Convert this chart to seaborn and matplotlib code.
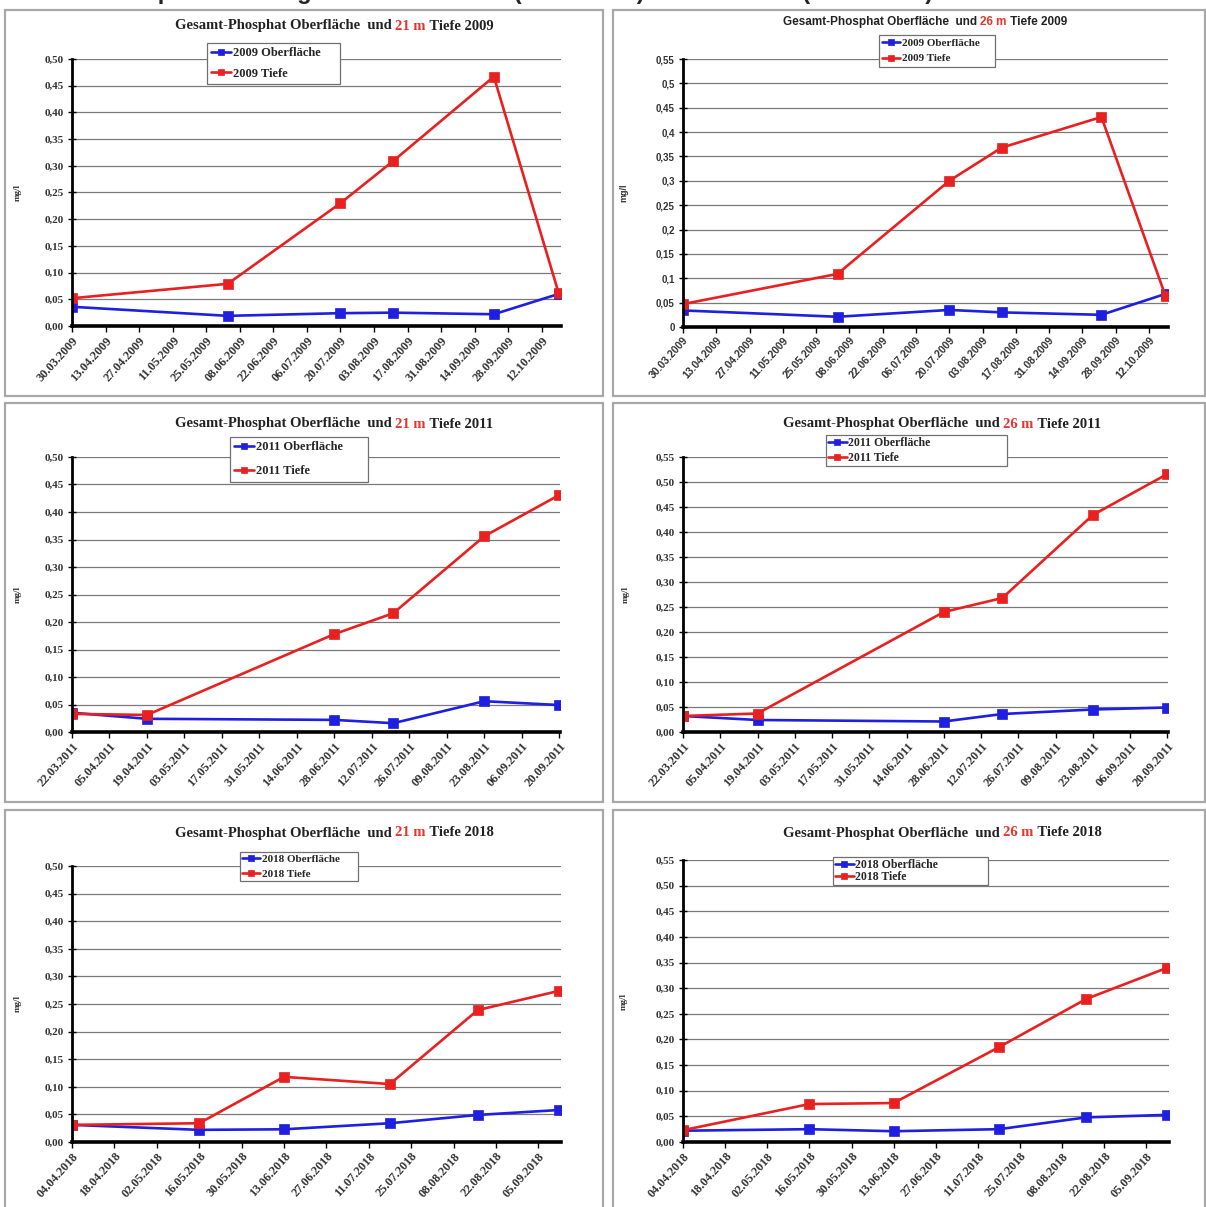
import numpy as np
import pandas as pd
import matplotlib
matplotlib.use("Agg")
import matplotlib.pyplot as plt
import matplotlib.dates as mdates
from matplotlib.patches import Rectangle
from matplotlib.ticker import FuncFormatter, MultipleLocator
import seaborn as sns

# ---------------------------------------------------------------- data
datum_2009 = ["30.03.2009", "03.06.2009", "20.07.2009", "11.08.2009", "22.09.2009", "19.10.2009"]
oberflaeche_2009_21m = [0.036, 0.019, 0.024, 0.025, 0.022, 0.060]
tiefe_2009_21m = [0.052, 0.079, 0.230, 0.309, 0.467, 0.062]
oberflaeche_2009_26m = [0.034, 0.021, 0.035, 0.030, 0.025, 0.068]
tiefe_2009_26m = [0.047, 0.109, 0.300, 0.368, 0.431, 0.063]

datum_2011 = ["22.03.2011", "19.04.2011", "28.06.2011", "20.07.2011", "23.08.2011", "20.09.2011"]
oberflaeche_2011_21m = [0.035, 0.024, 0.022, 0.016, 0.056, 0.049]
tiefe_2011_21m = [0.033, 0.031, 0.178, 0.216, 0.356, 0.431]
oberflaeche_2011_26m = [0.032, 0.024, 0.021, 0.036, 0.045, 0.049]
tiefe_2011_26m = [0.032, 0.037, 0.240, 0.268, 0.434, 0.516]

datum_2018 = ["04.04.2018", "16.05.2018", "13.06.2018", "18.07.2018", "16.08.2018", "12.09.2018"]
oberflaeche_2018_21m = [0.031, 0.022, 0.023, 0.034, 0.049, 0.058]
tiefe_2018_21m = [0.031, 0.034, 0.118, 0.105, 0.239, 0.274]
oberflaeche_2018_26m = [0.022, 0.025, 0.021, 0.025, 0.048, 0.053]
tiefe_2018_26m = [0.023, 0.074, 0.076, 0.185, 0.279, 0.340]

# ---------------------------------------------------------------- style
sns.set_theme(style="white")
SERIF = ["Liberation Serif", "DejaVu Serif"]
SANS = ["Liberation Sans", "DejaVu Sans"]
plt.rcParams["font.family"] = SERIF

BLUE = "#1f1fe0"
RED = "#e82020"
TITLE_RED = "#e8332b"

W, H = 1206, 1207
fig = plt.figure(figsize=(W / 100, H / 100), dpi=100)
fig.patch.set_facecolor("white")


def rect(x0, y0, x1, y1):
    return [x0 / W, 1 - y1 / H, (x1 - x0) / W, (y1 - y0) / H]


# page headline, running off the top edge of the page
fig.text(0.0, 1 + 1.5 / H,
         "Abb. 12: Phosphat-Messergebnisse Untersee (21 m Tiefe) und Obersee (26 m Tiefe)",
         fontsize=17, weight="bold", family=SANS, va="baseline", ha="left")

# frames around the six charts
frames = [(5, 10, 603, 396), (613, 10, 1205, 396),
          (5, 403, 603, 802), (613, 403, 1205, 802),
          (5, 810, 603, 1215), (613, 810, 1205, 1215)]
for x0, y0, x1, y1 in frames:
    fig.add_artist(Rectangle((x0 / W, 1 - y1 / H), (x1 - x0) / W, (y1 - y0) / H,
                             transform=fig.transFigure, fill=False,
                             edgecolor="#a8a8a8", linewidth=1.6))

panels = [
    dict(year="2009", depth="21 m", dates=datum_2009, ob=oberflaeche_2009_21m, tf=tiefe_2009_21m,
         axes=(72, 59, 561, 326), ytop=0.50, xend="2009-10-20", sans=False, fmt="2",
         title=(175, 26), legend=(207, 43, 340, 85), lfs=9, lspace=0.66, lpad=0.35, ylab_x=22),
    dict(year="2009", depth="26 m", dates=datum_2009, ob=oberflaeche_2009_26m, tf=tiefe_2009_26m,
         axes=(683, 59, 1168, 327), ytop=0.55, xend="2009-10-20", sans=True, fmt="g",
         title=(783, 22), legend=(879, 35, 995, 70), lfs=8, lspace=0.5, lpad=0.3, ylab_x=628),
    dict(year="2011", depth="21 m", dates=datum_2011, ob=oberflaeche_2011_21m, tf=tiefe_2011_21m,
         axes=(72, 457, 560, 732), ytop=0.50, xend="2011-09-20 06:00", sans=False, fmt="2",
         title=(175, 424), legend=(230, 437, 368, 483), lfs=9, lspace=0.95, lpad=0.35, ylab_x=22),
    dict(year="2011", depth="26 m", dates=datum_2011, ob=oberflaeche_2011_26m, tf=tiefe_2011_26m,
         axes=(683, 457, 1168, 732), ytop=0.55, xend="2011-09-20 06:00", sans=False, fmt="2",
         title=(783, 424), legend=(826, 435, 1007, 466), lfs=8.5, lspace=0.3, lpad=0.15, ylab_x=630),
    dict(year="2018", depth="21 m", dates=datum_2018, ob=oberflaeche_2018_21m, tf=tiefe_2018_21m,
         axes=(72, 866, 561, 1142), ytop=0.50, xend="2018-09-12 12:00", sans=False, fmt="2",
         title=(175, 833), legend=(240, 852, 358, 884), lfs=8, lspace=0.45, lpad=0.2, ylab_x=22),
    dict(year="2018", depth="26 m", dates=datum_2018, ob=oberflaeche_2018_26m, tf=tiefe_2018_26m,
         axes=(683, 860, 1169, 1142), ytop=0.55, xend="2018-09-12 12:00", sans=False, fmt="2",
         title=(783, 833), legend=(833, 857, 988, 884), lfs=8.5, lspace=0.05, lpad=0.15, ylab_x=628),
]


def comma_fmt(kind):
    if kind == "g":
        return FuncFormatter(lambda v, _: f"{round(v, 2):g}".replace(".", ","))
    return FuncFormatter(lambda v, _: f"{v:.2f}".replace(".", ","))


for p in panels:
    fam = SANS if p["sans"] else SERIF
    ysize = 7.0 if p["sans"] else 8.0
    xsize = 7.5 if p["sans"] else 8.8
    tsize = 8.5 if p["sans"] else 10.5
    x0, y0, x1, y1 = p["axes"]
    ax = fig.add_axes(rect(x0, y0, x1, y1))
    ax.set_facecolor("white")

    dates = pd.to_datetime(p["dates"], format="%d.%m.%Y")
    lab_ob = f"{p['year']} Oberfläche"
    lab_tf = f"{p['year']} Tiefe"
    for vals, col, lab in [(p["ob"], BLUE, lab_ob), (p["tf"], RED, lab_tf)]:
        sns.lineplot(x=dates, y=vals, ax=ax, color=col, label=lab, errorbar=None,
                     linewidth=1.9, marker="s", markersize=6.5,
                     markeredgecolor=col, markerfacecolor=col, markeredgewidth=0.5)

    start = dates[0]
    end = pd.Timestamp(p["xend"])
    ax.set_xlim(start, end)
    ax.set_xticks(pd.date_range(start, end, freq="14D"))
    ax.xaxis.set_major_formatter(mdates.DateFormatter("%d.%m.%Y"))
    ax.set_ylim(0, p["ytop"])
    ax.yaxis.set_major_locator(MultipleLocator(0.05))
    ax.yaxis.set_major_formatter(comma_fmt(p["fmt"]))

    ax.grid(axis="y", color="#7a7a7a", linewidth=0.9)
    ax.grid(axis="x", visible=False)
    ax.set_axisbelow(True)
    for s in ("top", "right"):
        ax.spines[s].set_visible(False)
    ax.spines["left"].set_color("black")
    ax.spines["left"].set_linewidth(2.0)
    ax.spines["bottom"].set_color("black")
    ax.spines["bottom"].set_linewidth(2.6)

    ax.tick_params(axis="y", direction="inout", length=6, width=1, color="black",
                   labelsize=ysize, pad=3, left=True)
    ax.tick_params(axis="x", direction="out", length=4, width=1, color="black",
                   labelsize=xsize, pad=2, bottom=True)
    for t in ax.get_yticklabels():
        t.set_fontfamily(fam)
        t.set_fontweight("bold")
        t.set_color("#333333")
    for t in ax.get_xticklabels():
        t.set_fontfamily(fam)
        t.set_fontweight("bold")
        t.set_color("#333333")
        t.set_rotation(48)
        t.set_ha("right")
        t.set_va("top")
        t.set_rotation_mode("anchor")

    ax.set_xlabel("")
    ax.set_ylabel("mg/l", fontsize=6.5, fontweight="bold", family=fam, color="#333333")
    ax.yaxis.set_label_coords((p["ylab_x"] - x0) / (x1 - x0), 0.5)

    lx0, ly0, lx1, ly1 = p["legend"]
    ax.legend(loc="upper left",
              bbox_to_anchor=(lx0 / W, 1 - ly1 / H, (lx1 - lx0) / W, (ly1 - ly0) / H),
              bbox_transform=fig.transFigure, mode="expand", borderaxespad=0,
              frameon=True, fancybox=False, framealpha=1, edgecolor="#707070",
              prop=dict(family=SERIF, weight="bold", size=p["lfs"]),
              handlelength=1.6, handletextpad=0.15, labelspacing=p["lspace"],
              borderpad=p["lpad"], markerscale=0.7)
    ax.get_legend().get_frame().set_linewidth(0.9)

    # chart title: black text with the depth in red
    tx, ty = p["title"]
    t1 = fig.text(tx / W, 1 - ty / H, "Gesamt-Phosphat Oberfläche  und ", fontsize=tsize,
                  fontweight="bold", family=fam, color="#222222", va="center", ha="left")
    t2 = ax.annotate(p["depth"], xy=(1, 0), xycoords=t1, va="bottom", ha="left",
                     fontsize=tsize, fontweight="bold", family=fam, color=TITLE_RED)
    ax.annotate(f" Tiefe {p['year']}", xy=(1, 0), xycoords=t2, va="bottom", ha="left",
                fontsize=tsize, fontweight="bold", family=fam, color="#222222")

fig.savefig("out.png", dpi=100, facecolor="white")
